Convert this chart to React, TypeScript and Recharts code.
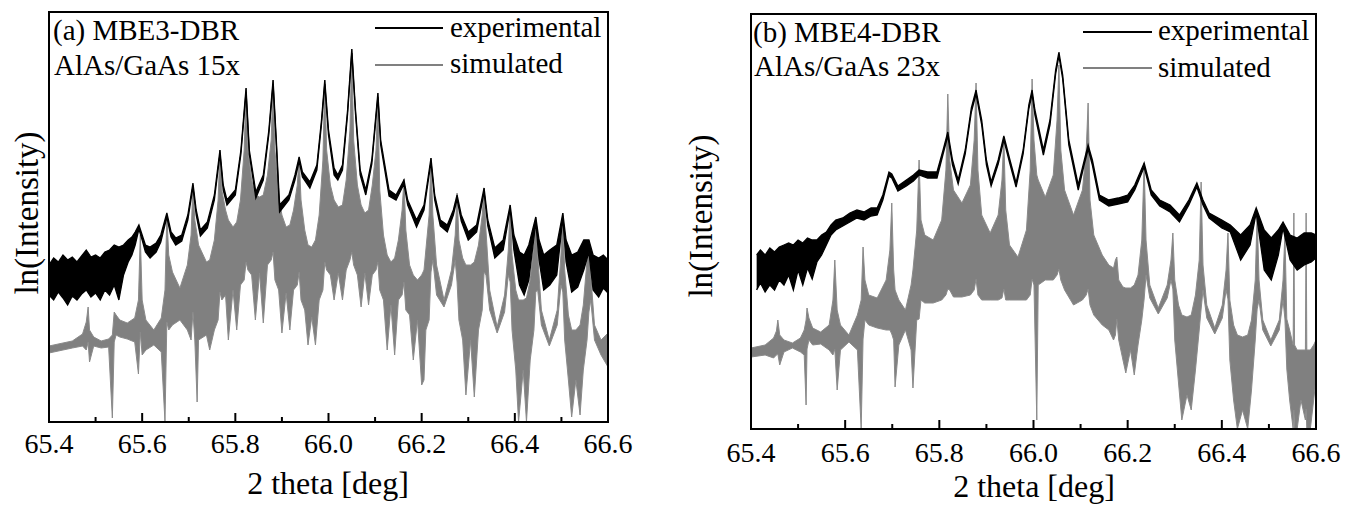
import React from "react";
import { ComposedChart, Area, XAxis, YAxis, ReferenceArea } from "recharts";

const FONT = '"Liberation Serif", "Times New Roman", Times, serif';

// x-axis tick values (deg)
const xTicks = [65.4, 65.5, 65.6, 65.7, 65.8, 65.9, 66.0, 66.1, 66.2, 66.3, 66.4, 66.5, 66.6];

// Panel (a) simulated: [2theta, lower envelope, upper envelope] of ln(Intensity) (arb. units)
const simulatedA: [number, number, number][] = [
  [65.4, 69, 76], [65.45, 74, 81], [65.472, 76, 88], [65.48, 72, 100], [65.484, 80, 115],
  [65.487, 60, 92], [65.496, 76, 85], [65.512, 74, 81], [65.528, 75, 83], [65.536, 4, 87],
  [65.54, 80, 110], [65.544, 87, 107], [65.552, 85, 102], [65.568, 83, 99], [65.584, 80, 104],
  [65.592, 48, 122], [65.596, 90, 187], [65.6, 67, 122], [65.608, 72, 102], [65.625, 77, 92],
  [65.641, 70, 104], [65.649, 0, 132], [65.653, 100, 207], [65.657, 92, 167], [65.665, 97, 150],
  [65.681, 102, 134], [65.697, 92, 157], [65.705, 82, 187], [65.709, 110, 237], [65.713, 82, 202],
  [65.718, 20, 187], [65.721, 82, 177], [65.738, 87, 160], [65.745, 72, 162], [65.755, 92, 182],
  [65.763, 102, 222], [65.767, 130, 272], [65.771, 122, 232], [65.779, 127, 212], [65.785, 82, 202],
  [65.795, 132, 195], [65.803, 92, 200], [65.811, 137, 222], [65.819, 142, 272], [65.823, 160, 334],
  [65.827, 152, 272], [65.835, 147, 242], [65.843, 102, 227], [65.852, 149, 225], [65.86, 99, 227],
  [65.869, 157, 247], [65.877, 162, 282], [65.881, 170, 342], [65.885, 142, 272], [65.893, 132, 227],
  [65.9, 89, 207], [65.909, 129, 195], [65.917, 92, 197], [65.925, 132, 212], [65.933, 137, 237],
  [65.937, 150, 265], [65.941, 122, 222], [65.949, 112, 192], [65.956, 77, 177], [65.964, 105, 175],
  [65.972, 77, 182], [65.98, 122, 207], [65.988, 132, 262], [65.992, 160, 342], [65.996, 152, 272],
  [66.004, 147, 237], [66.012, 122, 222], [66.021, 149, 215], [66.03, 122, 217], [66.038, 152, 242],
  [66.046, 162, 292], [66.05, 170, 373], [66.054, 157, 282], [66.062, 147, 237], [66.07, 115, 217],
  [66.078, 149, 209], [66.086, 117, 212], [66.094, 147, 237], [66.102, 152, 272], [66.106, 160, 329],
  [66.11, 132, 232], [66.118, 122, 187], [66.126, 72, 167], [66.134, 117, 160], [66.142, 67, 164],
  [66.15, 122, 182], [66.158, 127, 212], [66.162, 140, 243], [66.166, 112, 192], [66.174, 107, 157],
  [66.182, 62, 147], [66.191, 102, 142], [66.2, 37, 147], [66.205, 42, 152], [66.209, 92, 172],
  [66.216, 102, 207], [66.22, 150, 264], [66.224, 162, 207], [66.232, 127, 157], [66.248, 115, 122],
  [66.264, 137, 152], [66.272, 162, 187], [66.276, 140, 229], [66.28, 102, 182], [66.288, 82, 164],
  [66.295, 27, 157], [66.305, 82, 157], [66.313, 25, 160], [66.322, 92, 177], [66.33, 112, 207],
  [66.334, 150, 234], [66.338, 147, 192], [66.346, 112, 132], [66.362, 89, 95], [66.378, 110, 127],
  [66.386, 147, 172], [66.39, 140, 217], [66.394, 92, 167], [66.402, 52, 132], [66.408, 0, 122],
  [66.418, 52, 122], [66.425, 0, 124], [66.433, 62, 142], [66.441, 92, 177], [66.445, 130, 205],
  [66.449, 132, 167], [66.457, 97, 112], [66.474, 76, 82], [66.491, 97, 112], [66.499, 137, 167],
  [66.503, 130, 209], [66.507, 82, 152], [66.515, 42, 107], [66.522, 5, 92], [66.531, 42, 92],
  [66.54, 7, 97], [66.547, 52, 117], [66.555, 82, 162], [66.559, 110, 182], [66.563, 122, 147],
  [66.571, 82, 97], [66.585, 67, 82], [66.6, 55, 89],
];

// Panel (a) experimental: [2theta, lower, upper]
const experimentalA: [number, number, number][] = [
  [65.4, 127, 157], [65.41, 122, 164], [65.42, 130, 160], [65.43, 124, 167], [65.44, 117, 162],
  [65.45, 126, 165], [65.46, 122, 160], [65.47, 128, 166], [65.48, 132, 172], [65.49, 125, 165],
  [65.5, 129, 167], [65.51, 122, 164], [65.52, 132, 170], [65.53, 127, 172], [65.54, 137, 177],
  [65.55, 122, 175], [65.56, 147, 177], [65.57, 160, 182], [65.578, 167, 185], [65.585, 177, 190],
  [65.593, 193, 197], [65.6, 182, 187], [65.607, 170, 177], [65.617, 164, 175], [65.63, 170, 179],
  [65.64, 180, 187], [65.653, 205, 209], [65.662, 185, 190], [65.672, 177, 184], [65.685, 181, 187],
  [65.698, 202, 207], [65.709, 235, 239], [65.716, 207, 212], [65.725, 186, 192], [65.74, 194, 200],
  [65.755, 222, 227], [65.767, 268, 272], [65.774, 232, 237], [65.782, 217, 222], [65.8, 227, 232],
  [65.812, 268, 272], [65.823, 330, 334], [65.83, 268, 272], [65.844, 224, 230], [65.86, 242, 247],
  [65.872, 288, 292], [65.881, 338, 342], [65.888, 277, 282], [65.895, 210, 217], [65.915, 222, 227],
  [65.928, 242, 247], [65.937, 261, 265], [65.944, 245, 250], [65.96, 234, 240], [65.975, 252, 257],
  [65.985, 298, 302], [65.992, 338, 342], [66.0, 287, 292], [66.012, 247, 254], [66.02, 242, 247],
  [66.03, 252, 257], [66.041, 308, 312], [66.05, 369, 373], [66.058, 308, 312], [66.068, 247, 252],
  [66.08, 227, 232], [66.093, 258, 262], [66.106, 325, 329], [66.112, 277, 282], [66.13, 226, 232],
  [66.145, 222, 227], [66.162, 238, 242], [66.17, 217, 222], [66.189, 195, 202], [66.205, 212, 217],
  [66.22, 260, 264], [66.228, 222, 227], [66.24, 196, 202], [66.255, 190, 197], [66.268, 207, 212],
  [66.276, 223, 227], [66.285, 201, 207], [66.3, 182, 190], [66.318, 190, 197], [66.334, 230, 234],
  [66.342, 196, 202], [66.357, 164, 174], [66.375, 172, 182], [66.39, 213, 217], [66.398, 172, 187],
  [66.41, 137, 170], [66.42, 127, 167], [66.43, 142, 177], [66.445, 200, 205], [66.452, 162, 182],
  [66.462, 132, 167], [66.475, 137, 172], [66.49, 147, 177], [66.503, 204, 209], [66.51, 160, 182],
  [66.522, 130, 167], [66.535, 135, 170], [66.548, 152, 182], [66.559, 170, 182], [66.568, 132, 167],
  [66.58, 125, 164], [66.59, 134, 167], [66.6, 129, 162],
];

// Panel (b) simulated: [2theta, lower, upper]
const simulatedB: [number, number, number][] = [
  [65.4, 72, 81], [65.43, 74, 84], [65.448, 71, 91], [65.454, 74, 98], [65.457, 75, 109],
  [65.461, 64, 94], [65.47, 77, 89], [65.488, 81, 86], [65.505, 77, 91], [65.513, 74, 99],
  [65.517, 24, 109], [65.519, 80, 121], [65.523, 89, 111], [65.531, 84, 101], [65.548, 85, 97],
  [65.566, 79, 104], [65.574, 74, 129], [65.578, 80, 169], [65.583, 39, 119], [65.59, 79, 104],
  [65.608, 87, 94], [65.626, 79, 114], [65.634, 0, 129], [65.638, 90, 182], [65.642, 109, 149],
  [65.65, 104, 134], [65.668, 101, 131], [65.687, 99, 149], [65.695, 99, 179], [65.699, 95, 226],
  [65.703, 89, 159], [65.706, 42, 139], [65.714, 84, 129], [65.728, 99, 119], [65.74, 79, 144],
  [65.744, 41, 159], [65.752, 109, 199], [65.757, 110, 269], [65.761, 129, 209], [65.769, 126, 194],
  [65.787, 126, 189], [65.805, 129, 209], [65.814, 134, 259], [65.818, 140, 335], [65.822, 139, 269],
  [65.83, 132, 239], [65.848, 132, 226], [65.866, 134, 244], [65.874, 139, 289], [65.878, 150, 346],
  [65.882, 134, 259], [65.89, 129, 214], [65.908, 129, 196], [65.925, 129, 214], [65.933, 131, 249],
  [65.937, 140, 292], [65.941, 129, 219], [65.949, 129, 184], [65.967, 129, 172], [65.985, 129, 199],
  [65.993, 134, 259], [65.997, 150, 350], [66.001, 144, 289], [66.007, 9, 254], [66.01, 144, 249],
  [66.025, 149, 232], [66.042, 149, 254], [66.05, 154, 309], [66.054, 160, 364], [66.058, 149, 279],
  [66.066, 139, 239], [66.085, 124, 214], [66.104, 129, 239], [66.112, 134, 279], [66.116, 140, 326],
  [66.12, 124, 229], [66.128, 114, 194], [66.146, 104, 174], [66.16, 99, 164], [66.17, 89, 161],
  [66.174, 94, 169], [66.177, 110, 172], [66.181, 89, 149], [66.19, 69, 142], [66.196, 56, 141],
  [66.206, 79, 141], [66.214, 54, 144], [66.222, 84, 154], [66.23, 109, 189], [66.235, 130, 266],
  [66.239, 154, 189], [66.247, 131, 144], [66.265, 115, 121], [66.284, 131, 144], [66.292, 149, 169],
  [66.296, 140, 196], [66.3, 89, 149], [66.308, 46, 124], [66.315, 9, 114], [66.326, 34, 112],
  [66.335, 19, 114], [66.344, 59, 134], [66.352, 99, 169], [66.356, 120, 247], [66.36, 139, 164],
  [66.368, 111, 124], [66.385, 95, 101], [66.401, 111, 124], [66.409, 139, 159], [66.413, 130, 196],
  [66.417, 69, 129], [66.425, 29, 104], [66.433, 0, 94], [66.444, 19, 92], [66.455, 0, 94],
  [66.463, 39, 109], [66.471, 89, 149], [66.475, 120, 216], [66.479, 129, 149], [66.487, 99, 109],
  [66.504, 83, 89], [66.522, 99, 109], [66.53, 129, 149], [66.534, 110, 196], [66.538, 60, 110],
  [66.544, 29, 99], [66.5515, 0, 84], [66.553, 19, 216], [66.5545, 0, 84], [66.56, 0, 79],
  [66.568, 29, 79], [66.5775, 9, 79], [66.579, 20, 216], [66.5805, 0, 79], [66.588, 0, 79],
  [66.595, 29, 84], [66.6, 49, 89],
];

// Panel (b) experimental: [2theta, lower, upper]
const experimentalB: [number, number, number][] = [
  [65.412, 139, 174], [65.42, 146, 179], [65.43, 137, 174], [65.44, 144, 181], [65.45, 139, 177],
  [65.46, 149, 182], [65.47, 144, 184], [65.48, 154, 186], [65.49, 139, 184], [65.5, 159, 189],
  [65.51, 144, 186], [65.52, 161, 191], [65.53, 150, 189], [65.54, 167, 189], [65.55, 174, 194],
  [65.56, 184, 197], [65.57, 194, 204], [65.58, 199, 209], [65.595, 203, 211], [65.61, 207, 216],
  [65.625, 211, 219], [65.64, 209, 217], [65.655, 213, 221], [65.668, 214, 221], [65.68, 229, 234],
  [65.693, 253, 257], [65.699, 251, 255], [65.712, 238, 243], [65.73, 243, 249], [65.745, 248, 254],
  [65.757, 254, 259], [65.775, 251, 257], [65.795, 251, 257], [65.808, 275, 279], [65.818, 293, 297],
  [65.828, 264, 269], [65.84, 245, 249], [65.855, 275, 279], [65.868, 317, 321], [65.878, 335, 339],
  [65.89, 304, 309], [65.9, 264, 269], [65.91, 243, 247], [65.925, 265, 269], [65.937, 289, 293],
  [65.95, 265, 269], [65.963, 242, 246], [65.978, 275, 279], [65.99, 320, 324], [65.997, 335, 339],
  [66.003, 314, 319], [66.021, 274, 279], [66.035, 304, 309], [66.047, 355, 359], [66.054, 373, 377],
  [66.062, 350, 354], [66.075, 284, 289], [66.095, 239, 244], [66.108, 265, 269], [66.116, 280, 284],
  [66.125, 264, 269], [66.14, 229, 234], [66.16, 223, 229], [66.18, 225, 231], [66.2, 227, 234],
  [66.215, 239, 244], [66.235, 262, 266], [66.25, 234, 239], [66.268, 223, 229], [66.29, 217, 224],
  [66.31, 207, 214], [66.33, 224, 229], [66.347, 242, 246], [66.36, 224, 229], [66.373, 211, 216],
  [66.4, 201, 209], [66.418, 197, 204], [66.44, 169, 194], [66.46, 184, 204], [66.473, 216, 221],
  [66.49, 159, 199], [66.505, 149, 191], [66.52, 174, 199], [66.53, 201, 207], [66.545, 169, 194],
  [66.56, 159, 191], [66.575, 164, 196], [66.59, 167, 196], [66.6, 171, 194],
];

const toRows = (arr: [number, number, number][]) => arr.map(([x, lo, hi]) => ({ x, v: [lo, hi] }));

const GRAY = "#808080";

const makeTick = (labelDy: number) => (props: any) => {
  const { x, y, payload } = props;
  const v = payload.value as number;
  const major = Math.round(v * 10) % 2 === 0;
  return (
    <g>
      <line x1={x} x2={x} y1={y} y2={y - (major ? 9 : 5)} stroke="#000" strokeWidth={2} />
      {major && (
        <text
          x={x}
          y={y + labelDy}
          textAnchor="middle"
          fill="#000"
          style={{ fontFamily: FONT, fontSize: 28 }}
        >
          {v.toFixed(1)}
        </text>
      )}
    </g>
  );
};

type PanelProps = {
  left: number;
  width: number;
  margin: { top: number; right: number; bottom: number; left: number };
  yMax: number;
  sim: [number, number, number][];
  exp: [number, number, number][];
  labelDy: number;
};

function Panel({ left, width, margin, yMax, sim, exp, labelDy }: PanelProps) {
  return (
    <div style={{ position: "absolute", left, top: 0 }}>
      <ComposedChart width={width} height={505} margin={margin}>
        <XAxis
          type="number"
          dataKey="x"
          domain={[65.4, 66.6]}
          allowDataOverflow
          ticks={xTicks}
          interval={0}
          tickLine={false}
          axisLine={false}
          tickSize={0}
          tickMargin={0}
          height={1}
          tick={makeTick(labelDy)}
        />
        <YAxis type="number" hide width={0} domain={[0, yMax]} allowDataOverflow />
        <Area
          data={toRows(sim)}
          dataKey="v"
          type="linear"
          stroke="#8a8a8a"
          strokeWidth={1}
          fill={GRAY}
          fillOpacity={1}
          dot={false}
          activeDot={false}
          isAnimationActive={false}
        />
        <Area
          data={toRows(exp)}
          dataKey="v"
          type="linear"
          stroke="#000"
          strokeWidth={1.3}
          fill="#000"
          fillOpacity={1}
          dot={false}
          activeDot={false}
          isAnimationActive={false}
        />
        <ReferenceArea x1={65.4} x2={66.6} y1={0} y2={yMax} fill="none" stroke="#000" strokeWidth={2} ifOverflow="visible" />
      </ComposedChart>
    </div>
  );
}

export default function App() {
  const t = { fill: "#000" } as const;
  const f = (size: number) => ({ fontFamily: FONT, fontSize: size });
  return (
    <div style={{ position: "absolute", left: 0, top: 0, width: 1355, height: 505, background: "#fff", overflow: "hidden" }}>
      <Panel left={0} width={650} margin={{ top: 12, right: 42, bottom: 82, left: 49 }} yMax={410} sim={simulatedA} exp={experimentalA} labelDy={31} />
      <Panel left={700} width={655} margin={{ top: 14, right: 39, bottom: 75, left: 51 }} yMax={415} sim={simulatedB} exp={experimentalB} labelDy={33} />
      <svg width={1355} height={505} style={{ position: "absolute", left: 0, top: 0, pointerEvents: "none" }}>
        {/* panel (a) */}
        <text x={53} y={40} style={f(29)} {...t}>(a) MBE3-DBR</text>
        <text x={54} y={75} style={f(29)} {...t}>AlAs/GaAs 15x</text>
        <line x1={375} x2={443} y1={28} y2={28} stroke="#000" strokeWidth={2} />
        <text x={450} y={37} style={f(29)} {...t}>experimental</text>
        <line x1={375} x2={443} y1={65} y2={65} stroke={GRAY} strokeWidth={2} />
        <text x={450} y={73} style={f(29)} {...t}>simulated</text>
        <text x={328} y={494} style={f(32)} textAnchor="middle" {...t}>2 theta [deg]</text>
        <text transform="translate(38,213) rotate(-90)" style={f(33)} textAnchor="middle" {...t}>ln(Intensity)</text>
        {/* panel (b) */}
        <text x={753} y={42} style={f(29)} {...t}>(b) MBE4-DBR</text>
        <text x={754} y={76} style={f(29)} {...t}>AlAs/GaAs 23x</text>
        <line x1={1083} x2={1152} y1={32} y2={32} stroke="#000" strokeWidth={2} />
        <text x={1158} y={40} style={f(29)} {...t}>experimental</text>
        <line x1={1083} x2={1152} y1={68} y2={68} stroke={GRAY} strokeWidth={2} />
        <text x={1158} y={77} style={f(29)} {...t}>simulated</text>
        <text x={1034} y={497} style={f(32)} textAnchor="middle" {...t}>2 theta [deg]</text>
        <text transform="translate(712,216) rotate(-90)" style={f(33)} textAnchor="middle" {...t}>ln(Intensity)</text>
      </svg>
    </div>
  );
}
